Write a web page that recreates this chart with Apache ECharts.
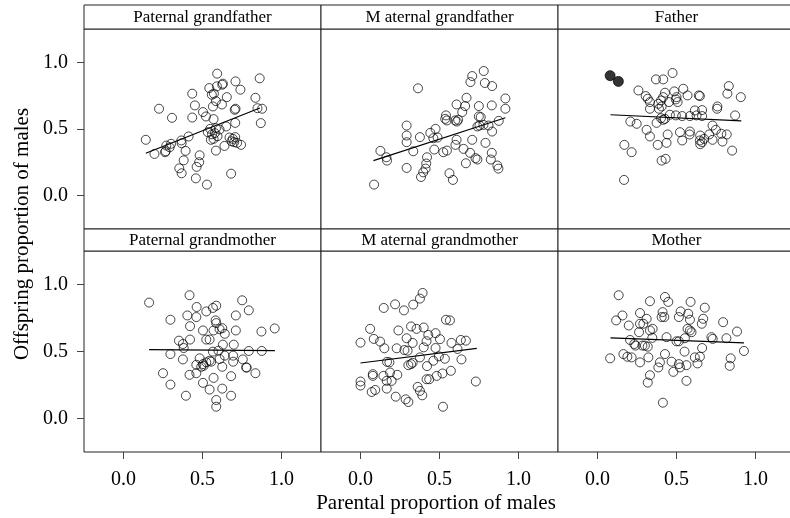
<!DOCTYPE html>
<html>
<head>
<meta charset="utf-8">
<script src="https://cdn.jsdelivr.net/npm/echarts@6/dist/echarts.min.js"></script>
<style>html,body{margin:0;padding:0;background:#fff}#c{width:790px;height:518px}</style>
</head>
<body>
<div id="c"></div>
<script>
// ---- data ----
const panelNames = ['Paternal grandfather', 'M aternal grandfather', 'Father',
                    'Paternal grandmother', 'M aternal grandmother', 'Mother'];
const tickValues = [0, 0.5, 1.0];
const xAxisTitle = 'Parental proportion of males';
const yAxisTitle = 'Offspring proportion of males';

const paternalGrandfather = [
 [0.593,0.915],[0.709,0.857],[0.862,0.880],[0.543,0.807],[0.591,0.820],[0.625,0.832],[0.629,0.840],
 [0.740,0.795],[0.435,0.765],[0.559,0.757],[0.572,0.765],[0.585,0.709],[0.654,0.739],[0.835,0.734],
 [0.623,0.684],[0.452,0.677],[0.225,0.652],[0.566,0.669],[0.709,0.652],[0.704,0.644],[0.848,0.656],
 [0.877,0.652],[0.503,0.627],[0.307,0.584],[0.435,0.586],[0.570,0.574],[0.522,0.594],[0.707,0.546],
 [0.869,0.544],[0.534,0.476],[0.549,0.501],[0.585,0.506],[0.608,0.496],[0.650,0.519],[0.578,0.469],
 [0.595,0.446],[0.553,0.419],[0.570,0.426],[0.671,0.436],[0.692,0.426],[0.707,0.439],[0.684,0.408],
 [0.700,0.401],[0.719,0.396],[0.744,0.381],[0.141,0.419],[0.301,0.389],[0.271,0.376],[0.366,0.414],
 [0.368,0.393],[0.412,0.444],[0.292,0.363],[0.263,0.326],[0.267,0.333],[0.196,0.313],[0.393,0.336],
 [0.482,0.303],[0.585,0.338],[0.639,0.373],[0.381,0.265],[0.479,0.251],[0.463,0.216],[0.353,0.205],
 [0.368,0.168],[0.681,0.165],[0.458,0.130],[0.528,0.083],[0.560,0.460]
];
const maternalGrandfather = [
 [0.780,0.935],[0.707,0.897],[0.696,0.852],[0.787,0.845],[0.833,0.822],[0.364,0.805],[0.671,0.734],
 [0.917,0.729],[0.608,0.684],[0.662,0.672],[0.749,0.672],[0.831,0.677],[0.917,0.652],[0.644,0.627],
 [0.541,0.602],[0.536,0.576],[0.547,0.564],[0.599,0.564],[0.610,0.556],[0.618,0.569],[0.749,0.594],
 [0.761,0.589],[0.740,0.519],[0.753,0.526],[0.778,0.531],[0.810,0.526],[0.875,0.561],[0.292,0.526],
 [0.833,0.481],[0.292,0.451],[0.376,0.439],[0.442,0.471],[0.475,0.501],[0.461,0.431],[0.488,0.436],
 [0.292,0.401],[0.608,0.419],[0.601,0.381],[0.707,0.419],[0.791,0.396],[0.126,0.336],[0.164,0.288],
 [0.168,0.263],[0.334,0.333],[0.467,0.346],[0.524,0.326],[0.547,0.338],[0.652,0.351],[0.694,0.321],
 [0.728,0.281],[0.740,0.271],[0.831,0.321],[0.825,0.271],[0.667,0.243],[0.866,0.226],[0.873,0.203],
 [0.421,0.288],[0.416,0.241],[0.412,0.203],[0.397,0.175],[0.383,0.140],[0.292,0.208],[0.563,0.168],
 [0.585,0.118],[0.086,0.083]
];
const father = [
 [0.475,0.920],[0.370,0.872],[0.416,0.872],[0.831,0.822],[0.259,0.789],[0.822,0.765],[0.907,0.739],
 [0.427,0.772],[0.486,0.782],[0.543,0.802],[0.570,0.752],[0.641,0.752],[0.648,0.747],[0.305,0.747],
 [0.318,0.727],[0.332,0.702],[0.402,0.714],[0.416,0.739],[0.452,0.702],[0.496,0.722],[0.500,0.739],
 [0.507,0.702],[0.385,0.689],[0.332,0.652],[0.389,0.652],[0.406,0.669],[0.616,0.639],[0.662,0.642],
 [0.759,0.669],[0.757,0.652],[0.871,0.602],[0.402,0.581],[0.416,0.569],[0.427,0.576],[0.458,0.607],
 [0.496,0.602],[0.536,0.597],[0.585,0.597],[0.627,0.602],[0.662,0.597],[0.208,0.556],[0.248,0.539],
 [0.374,0.546],[0.728,0.526],[0.749,0.494],[0.311,0.494],[0.332,0.444],[0.444,0.459],[0.522,0.476],
 [0.585,0.481],[0.583,0.459],[0.650,0.451],[0.707,0.459],[0.784,0.464],[0.818,0.459],[0.381,0.381],
 [0.437,0.396],[0.536,0.414],[0.648,0.414],[0.662,0.401],[0.650,0.386],[0.728,0.419],[0.791,0.406],
 [0.852,0.338],[0.170,0.381],[0.216,0.326],[0.406,0.263],[0.431,0.276],[0.168,0.118],[0.675,0.426]
];
const fatherFilled = [[0.080,0.900],[0.132,0.857]];
const paternalGrandmother = [
 [0.418,0.920],[0.162,0.865],[0.751,0.882],[0.793,0.807],[0.463,0.832],[0.566,0.825],[0.587,0.842],
 [0.524,0.799],[0.404,0.769],[0.461,0.757],[0.711,0.769],[0.297,0.737],[0.583,0.732],[0.587,0.712],
 [0.421,0.689],[0.503,0.657],[0.570,0.657],[0.608,0.667],[0.625,0.674],[0.641,0.632],[0.711,0.657],
 [0.873,0.649],[0.957,0.672],[0.351,0.581],[0.421,0.589],[0.524,0.589],[0.545,0.589],[0.376,0.556],
 [0.381,0.526],[0.629,0.551],[0.698,0.551],[0.297,0.481],[0.566,0.499],[0.601,0.506],[0.793,0.504],
 [0.875,0.504],[0.376,0.441],[0.482,0.449],[0.461,0.401],[0.503,0.406],[0.492,0.386],[0.507,0.393],
 [0.524,0.419],[0.545,0.431],[0.555,0.424],[0.608,0.444],[0.641,0.469],[0.694,0.469],[0.694,0.424],
 [0.755,0.441],[0.776,0.381],[0.835,0.338],[0.250,0.338],[0.297,0.253],[0.418,0.326],[0.461,0.338],
 [0.570,0.303],[0.625,0.386],[0.681,0.316],[0.503,0.266],[0.545,0.216],[0.625,0.223],[0.681,0.170],
 [0.395,0.170],[0.587,0.138],[0.587,0.088],[0.780,0.380]
];
const maternalGrandmother = [
 [0.393,0.937],[0.376,0.895],[0.334,0.850],[0.275,0.807],[0.219,0.852],[0.147,0.825],[0.541,0.737],
 [0.566,0.732],[0.061,0.669],[0.240,0.657],[0.320,0.687],[0.355,0.669],[0.400,0.679],[0.429,0.624],
 [0.475,0.637],[0.503,0.592],[0.418,0.577],[0.330,0.564],[0.292,0.599],[0.084,0.594],[0.124,0.574],
 [0.000,0.566],[0.151,0.524],[0.229,0.524],[0.278,0.511],[0.298,0.506],[0.400,0.531],[0.475,0.526],
 [0.576,0.564],[0.635,0.586],[0.667,0.581],[0.614,0.519],[0.376,0.456],[0.461,0.431],[0.496,0.464],
 [0.534,0.446],[0.639,0.441],[0.168,0.423],[0.183,0.419],[0.303,0.398],[0.320,0.406],[0.330,0.416],
 [0.421,0.391],[0.078,0.331],[0.078,0.318],[0.145,0.318],[0.187,0.343],[0.233,0.326],[0.166,0.281],
 [0.197,0.281],[0.000,0.276],[0.000,0.246],[0.071,0.198],[0.093,0.213],[0.166,0.223],[0.418,0.293],
 [0.435,0.293],[0.482,0.318],[0.519,0.336],[0.572,0.356],[0.730,0.276],[0.362,0.236],[0.376,0.206],
 [0.391,0.173],[0.223,0.163],[0.286,0.143],[0.303,0.123],[0.522,0.088]
];
const mother = [
 [0.134,0.920],[0.427,0.907],[0.448,0.870],[0.332,0.875],[0.589,0.870],[0.679,0.827],[0.158,0.769],
 [0.269,0.787],[0.412,0.794],[0.406,0.757],[0.423,0.757],[0.526,0.799],[0.515,0.757],[0.574,0.782],
 [0.585,0.737],[0.669,0.744],[0.660,0.707],[0.118,0.732],[0.198,0.694],[0.269,0.707],[0.290,0.707],
 [0.311,0.744],[0.795,0.719],[0.332,0.657],[0.349,0.669],[0.263,0.644],[0.570,0.669],[0.585,0.657],
 [0.595,0.644],[0.883,0.649],[0.206,0.586],[0.233,0.556],[0.284,0.544],[0.318,0.536],[0.347,0.602],
 [0.437,0.607],[0.500,0.576],[0.515,0.576],[0.553,0.599],[0.721,0.607],[0.729,0.594],[0.816,0.599],
 [0.927,0.504],[0.080,0.449],[0.164,0.481],[0.189,0.461],[0.216,0.456],[0.269,0.419],[0.322,0.456],
 [0.427,0.481],[0.551,0.499],[0.662,0.526],[0.616,0.456],[0.648,0.461],[0.395,0.419],[0.385,0.381],
 [0.469,0.424],[0.515,0.406],[0.522,0.381],[0.563,0.398],[0.633,0.411],[0.843,0.449],[0.837,0.393],
 [0.480,0.348],[0.332,0.323],[0.318,0.268],[0.563,0.281],[0.414,0.118],[0.240,0.544],[0.300,0.544]
];
// fitted line end points [xStart, yStart, xEnd, yEnd]
const fitPaternalGrandfather = [0.141, 0.318, 0.863, 0.657];
const fitMaternalGrandfather = [0.082, 0.263, 0.917, 0.584];
const fitFather = [0.082, 0.607, 0.910, 0.561];
const fitPaternalGrandmother = [0.162, 0.514, 0.958, 0.506];
const fitMaternalGrandmother = [0.000, 0.414, 0.736, 0.524];
const fitMother = [0.082, 0.602, 0.927, 0.564];

const panelPoints = [paternalGrandfather, maternalGrandfather, father,
                     paternalGrandmother, maternalGrandmother, mother];
const panelFits = [fitPaternalGrandfather, fitMaternalGrandfather, fitFather,
                   fitPaternalGrandmother, fitMaternalGrandmother, fitMother];

// ---- layout ----
const FONT = 'Liberation Serif, Times New Roman, serif';
const colLeft = [84, 321, 558];
const colWidth = 237;
const rowTop = [29, 251];
const rowHeight = [200, 201];
const stripTop = [5, 229];
const stripHeight = [24, 22];

const grids = [], xAxes = [], yAxes = [], series = [], graphics = [];
const fmt = v => Number(v).toFixed(1);

for (let i = 0; i < 6; i++) {
  const r = Math.floor(i / 3), c = i % 3;
  grids.push({
    left: colLeft[c], top: rowTop[r], width: colWidth, height: rowHeight[r],
    show: true, borderColor: '#222', borderWidth: 1, backgroundColor: '#fff',
    containLabel: false, outerBoundsMode: 'none'
  });
  const bottomRow = r === 1, leftCol = c === 0;
  xAxes.push({
    type: 'value', gridIndex: i, min: -0.25, max: 1.25,
    splitLine: { show: false },
    axisLine: { show: false, onZero: false },
    axisTick: { show: bottomRow, length: 7, customValues: tickValues, lineStyle: { color: '#444', width: 1 } },
    axisLabel: { show: bottomRow, customValues: tickValues, formatter: fmt, margin: 18,
                 color: '#000', fontFamily: FONT, fontSize: 20 }
  });
  yAxes.push({
    type: 'value', gridIndex: i, min: -0.25, max: 1.25,
    splitLine: { show: false },
    axisLine: { show: false, onZero: false },
    axisTick: { show: leftCol, length: 7, customValues: tickValues, lineStyle: { color: '#444', width: 1 } },
    axisLabel: { show: leftCol, customValues: tickValues, formatter: fmt, margin: 16,
                 color: '#000', fontFamily: FONT, fontSize: 20 }
  });
  series.push({
    type: 'scatter', xAxisIndex: i, yAxisIndex: i, data: panelPoints[i],
    symbol: 'circle', symbolSize: 9, silent: true,
    itemStyle: { color: 'rgba(0,0,0,0)', borderColor: '#000', borderWidth: 0.9 }
  });
  const f = panelFits[i];
  series.push({
    type: 'line', xAxisIndex: i, yAxisIndex: i, data: [[f[0], f[1]], [f[2], f[3]]],
    showSymbol: false, symbol: 'none', silent: true,
    lineStyle: { color: '#000', width: 1.2 }
  });
  // strip header
  graphics.push({
    type: 'rect', silent: true,
    shape: { x: colLeft[c], y: stripTop[r], width: colWidth, height: stripHeight[r] },
    style: { fill: '#fff', stroke: '#222', lineWidth: 1 }
  });
  graphics.push({
    type: 'text', silent: true,
    x: colLeft[c] + colWidth / 2, y: stripTop[r] + stripHeight[r] / 2 + 1,
    style: { text: panelNames[i], fontFamily: FONT, fontSize: 17, fill: '#000',
             align: 'center', verticalAlign: 'middle' }
  });
}
series.push({
  type: 'scatter', xAxisIndex: 2, yAxisIndex: 2, data: fatherFilled,
  symbol: 'circle', symbolSize: 10, silent: true,
  itemStyle: { color: '#000', borderColor: '#000', borderWidth: 0.9 }
});

graphics.push({
  type: 'text', silent: true, x: 436, y: 503,
  style: { text: xAxisTitle, fontFamily: FONT, fontSize: 21, fill: '#000', align: 'center', verticalAlign: 'middle' }
});
graphics.push({
  type: 'text', silent: true, x: 22, y: 234, rotation: Math.PI / 2,
  style: { text: yAxisTitle, fontFamily: FONT, fontSize: 21, fill: '#000', align: 'center', verticalAlign: 'middle' }
});

const chart = echarts.init(document.getElementById('c'), null, { renderer: 'canvas' });
chart.setOption({
  animation: false,
  backgroundColor: '#fff',
  grid: grids, xAxis: xAxes, yAxis: yAxes, series: series,
  graphic: graphics
});
</script>
</body>
</html>
